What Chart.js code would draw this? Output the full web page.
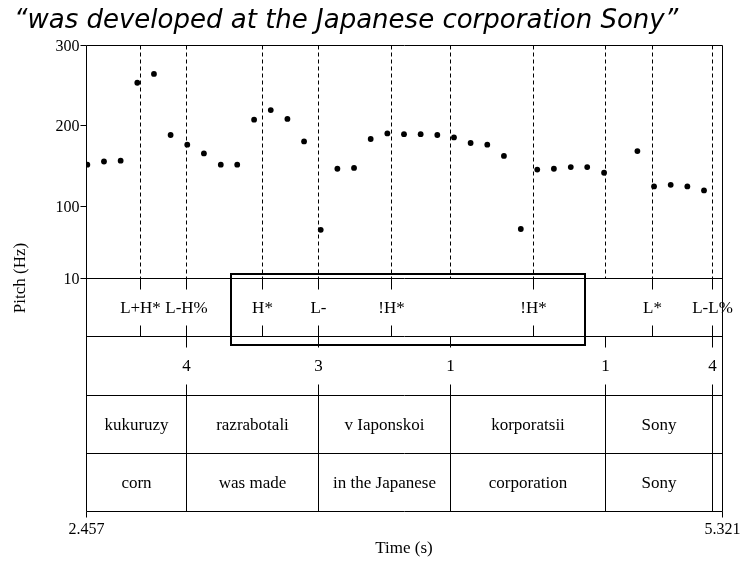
<!DOCTYPE html>
<html>

<head>
    <meta charset="utf-8">
    <title>Pitch track</title>
    <script src="https://cdn.jsdelivr.net/npm/chart.js"></script>
    <style>
        html, body {
            margin: 0;
            padding: 0;
            background: #ffffff;
        }

        #main {
            width: 743px;
            height: 564px;
            position: relative;
        }
    </style>
</head>

<body>
    <div id="main">
        <canvas id="myChart" width="743" height="564"></canvas>
    </div>

    <script>
        // pitch samples (s, Hz)
        const pitchTimes = [2.463, 2.538, 2.613, 2.688, 2.763, 2.838, 2.913, 2.988, 3.064, 3.138,
            3.214, 3.289, 3.364, 3.439, 3.514, 3.589, 3.664, 3.739, 3.814, 3.889,
            3.964, 4.039, 4.114, 4.189, 4.264, 4.339, 4.415, 4.489, 4.564, 4.640,
            4.714, 4.790, 4.940, 5.015, 5.090, 5.165, 5.240];
        const pitchValues = [151, 155, 156, 253, 264, 188, 176, 165, 151, 151,
            207, 219, 208, 180, 70, 146, 147, 183, 190, 189,
            189, 188, 185, 178, 176, 162, 71, 145, 146, 148,
            148, 141, 168, 124, 126, 124, 119];

        // tones tier
        const toneTimes = [2.700, 2.907, 3.250, 3.502, 3.830, 4.470, 5.006, 5.276];
        const toneLabels = ['L+H*', 'L-H%', 'H*', 'L-', '!H*', '!H*', 'L*', 'L-L%'];

        // break index tier
        const breakTimes = [2.907, 3.502, 4.096, 4.794, 5.276];
        const breakLabels = ['4', '3', '1', '1', '4'];

        // words and gloss tiers (interval edges)
        const wordEdges = [2.457, 2.907, 3.502, 4.096, 4.794, 5.276, 5.321];
        const wordLabels = ['kukuruzy', 'razrabotali', 'v Iaponskoi', 'korporatsii', 'Sony', ''];
        const glossLabels = ['corn', 'was made', 'in the Japanese', 'corporation', 'Sony', ''];

        // dashed guides in the pitch panel
        const guideTimes = [2.700, 2.907, 3.250, 3.502, 3.830, 4.096, 4.470, 4.794, 5.006, 5.276];

        // axes
        const yTicks = [10, 100, 200, 300];
        const xTicks = [2.457, 5.321];
        const tMin = 2.457, tMax = 5.321;
        const yMin = -280, yMax = 300;
        // tier boundaries on the y scale (pitch panel bottom = 10)
        const tierEdges = [10, -62.5, -135, -207.5, -280];

        // highlighted region
        const boxT0 = 3.110, boxT1 = 4.704, boxTop = 15, boxBottom = -73;

        const serif = '"Liberation Serif", "Times New Roman", serif';

        const tiersPlugin = {
            id: 'tiers',
            beforeDatasetsDraw(chart) {
                const ctx = chart.ctx;
                const xs = chart.scales.x, ys = chart.scales.y;
                const a = chart.chartArea;
                const X = v => Math.round(xs.getPixelForValue(v)) + 0.5;
                const Y = v => Math.round(ys.getPixelForValue(v)) + 0.5;
                ctx.save();
                ctx.strokeStyle = '#000';
                ctx.fillStyle = '#000';
                ctx.lineWidth = 1;

                // title
                ctx.font = 'italic 26px "DejaVu Sans", sans-serif';
                ctx.textAlign = 'left';
                ctx.textBaseline = 'alphabetic';
                ctx.fillText('\u201Cwas developed at the Japanese corporation Sony\u201D', 14, 28);

                // dashed guides
                ctx.setLineDash([4, 3]);
                guideTimes.forEach(t => {
                    ctx.beginPath();
                    ctx.moveTo(X(t), Y(yMax));
                    ctx.lineTo(X(t), Y(tierEdges[0]));
                    ctx.stroke();
                });
                ctx.setLineDash([]);

                // frame and tier lines
                ctx.beginPath();
                ctx.moveTo(X(tMin), Y(yMax));
                ctx.lineTo(X(tMin), Y(yMin));
                ctx.moveTo(X(tMax), Y(yMax));
                ctx.lineTo(X(tMax), Y(yMin));
                ctx.moveTo(X(tMin), Y(yMax));
                ctx.lineTo(X(tMax), Y(yMax));
                tierEdges.forEach(v => {
                    ctx.moveTo(X(tMin), Y(v));
                    ctx.lineTo(X(tMax), Y(v));
                });
                ctx.stroke();

                // y ticks
                ctx.font = '16px ' + serif;
                ctx.textAlign = 'right';
                ctx.textBaseline = 'middle';
                yTicks.forEach(v => {
                    ctx.beginPath();
                    ctx.moveTo(X(tMin) - 6, Y(v));
                    ctx.lineTo(X(tMin), Y(v));
                    ctx.stroke();
                    ctx.fillText(String(v), X(tMin) - 7, Y(v) + 1);
                });

                // x ticks
                ctx.textAlign = 'center';
                ctx.textBaseline = 'top';
                xTicks.forEach(v => {
                    ctx.beginPath();
                    ctx.moveTo(X(v), Y(yMin));
                    ctx.lineTo(X(v), Y(yMin) + 6);
                    ctx.stroke();
                    ctx.fillText(v.toFixed(3), X(v), Y(yMin) + 10);
                });

                // axis titles
                ctx.font = '17px ' + serif;
                ctx.fillText('Time (s)', (a.left + a.right) / 2, Y(yMin) + 29);
                ctx.save();
                ctx.translate(21, (a.top + a.bottom) / 2);
                ctx.rotate(-Math.PI / 2);
                ctx.textBaseline = 'middle';
                ctx.fillText('Pitch (Hz)', 0, 0);
                ctx.restore();

                // point tiers: short ticks at top and bottom, label centered
                const pointTier = (times, labels, top, bottom) => {
                    const y0 = Y(top), y1 = Y(bottom);
                    ctx.textAlign = 'center';
                    ctx.textBaseline = 'middle';
                    times.forEach((t, i) => {
                        ctx.beginPath();
                        ctx.moveTo(X(t), y0);
                        ctx.lineTo(X(t), y0 + 11);
                        ctx.moveTo(X(t), y1);
                        ctx.lineTo(X(t), y1 - 11);
                        ctx.stroke();
                        ctx.fillText(labels[i], X(t), (y0 + y1) / 2 + 1);
                    });
                };
                ctx.font = '17px ' + serif;
                pointTier(toneTimes, toneLabels, tierEdges[0], tierEdges[1]);
                pointTier(breakTimes, breakLabels, tierEdges[1], tierEdges[2]);

                // interval tiers
                const intervalTier = (edges, labels, top, bottom) => {
                    const y0 = Y(top), y1 = Y(bottom);
                    edges.slice(1, -1).forEach(t => {
                        ctx.beginPath();
                        ctx.moveTo(X(t), y0);
                        ctx.lineTo(X(t), y1);
                        ctx.stroke();
                    });
                    labels.forEach((s, i) => {
                        const cx = (X(edges[i]) + X(edges[i + 1])) / 2;
                        ctx.fillText(s, cx, (y0 + y1) / 2 + 1);
                    });
                };
                intervalTier(wordEdges, wordLabels, tierEdges[2], tierEdges[3]);
                intervalTier(wordEdges, glossLabels, tierEdges[3], tierEdges[4]);

                ctx.restore();
            },
            afterDatasetsDraw(chart) {
                const ctx = chart.ctx;
                const xs = chart.scales.x, ys = chart.scales.y;
                ctx.save();
                ctx.strokeStyle = '#000';
                ctx.lineWidth = 2;
                const x0 = xs.getPixelForValue(boxT0), x1 = xs.getPixelForValue(boxT1);
                const y0 = ys.getPixelForValue(boxTop), y1 = ys.getPixelForValue(boxBottom);
                ctx.strokeRect(Math.round(x0), Math.round(y0), Math.round(x1 - x0), Math.round(y1 - y0));
                ctx.restore();
            }
        };

        var points = pitchTimes.map((t, i) => ({ x: t, y: pitchValues[i] }));

        var ctx = document.getElementById('myChart').getContext('2d');
        var chart = new Chart(ctx, {
            type: 'scatter',
            data: {
                datasets: [{
                    label: 'Pitch',
                    data: points,
                    backgroundColor: '#000',
                    borderColor: '#000',
                    pointRadius: 2.9,
                    pointBorderWidth: 0
                }]
            },
            options: {
                responsive: false,
                animation: false,
                layout: {
                    autoPadding: false,
                    padding: { left: 86, right: 21, top: 45, bottom: 53 }
                },
                scales: {
                    x: { type: 'linear', min: tMin, max: tMax, display: false },
                    y: { type: 'linear', min: yMin, max: yMax, display: false }
                },
                plugins: {
                    legend: { display: false },
                    tooltip: { enabled: false }
                }
            },
            plugins: [tiersPlugin]
        });
    </script>
</body>

</html>
